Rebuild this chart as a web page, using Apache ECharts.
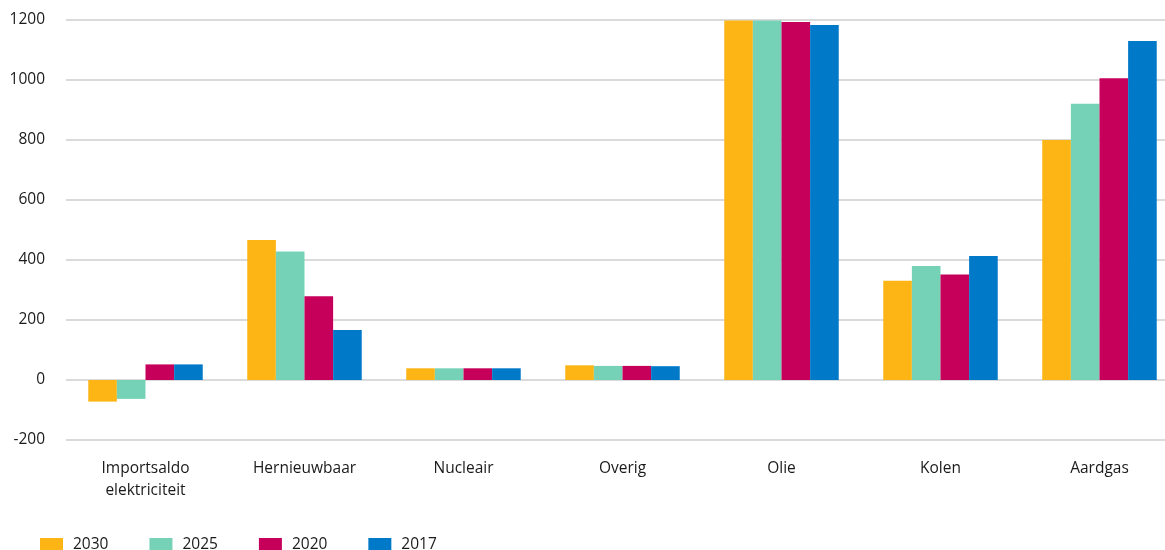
<!DOCTYPE html>
<html><head><meta charset="utf-8">
<script src="https://cdn.jsdelivr.net/npm/echarts@6/dist/echarts.min.js"></script>
<style>html,body{margin:0;padding:0;background:#fff;overflow:hidden}#c{width:1180px;height:550px}</style>
</head><body><div id="c"></div>
<script>
const categories = ['Importsaldo\nelektriciteit','Hernieuwbaar','Nucleair','Overig','Olie','Kolen','Aardgas'];
const seriesNames = ['2030','2025','2020','2017'];
const v2030 = [-72, 467, 39, 49, 1198, 331, 800];
const v2025 = [-63, 428, 39, 47, 1198, 380, 921];
const v2020 = [52, 279, 39, 47, 1193, 352, 1006];
const v2017 = [52, 167, 39, 46, 1183, 413, 1130];
const yTicks = {min: -200, max: 1200, interval: 200};
const colors = ['#FDB515','#76D2B6','#C6005A','#0079C8'];
const values = [v2030, v2025, v2020, v2017];
const font = '"Open Sans", sans-serif';
const txt = '#1a1a1a';
const chart = echarts.init(document.getElementById('c'));
chart.setOption({
  animation: false,
  textStyle: {fontFamily: font},
  grid: {left: 66, width: 1113, top: 20, bottom: 110, containLabel: false},
  legend: {
    left: 35, top: 532, itemWidth: 23, itemHeight: 14, itemGap: 41,
    icon: 'rect',
    textStyle: {fontSize: 15.5, color: txt, fontFamily: font, padding: [0,0,0,5]},
    data: seriesNames
  },
  xAxis: {
    type: 'category', data: categories,
    axisLine: {show: false}, axisTick: {show: false},
    axisLabel: {fontSize: 15.5, color: txt, margin: 18, lineHeight: 22, fontFamily: font}
  },
  yAxis: {
    type: 'value', min: yTicks.min, max: yTicks.max, interval: yTicks.interval,
    axisLine: {show: false}, axisTick: {show: false},
    axisLabel: {fontSize: 15.5, color: txt, margin: 21, fontFamily: font, formatter: v => String(v)},
    splitLine: {lineStyle: {color: '#dadada', width: 2}}
  },
  series: seriesNames.map((n, i) => ({
    name: n, type: 'bar', data: values[i],
    barGap: '0%', barCategoryGap: '28%',
    itemStyle: {color: colors[i]}
  }))
});
</script></body></html>
